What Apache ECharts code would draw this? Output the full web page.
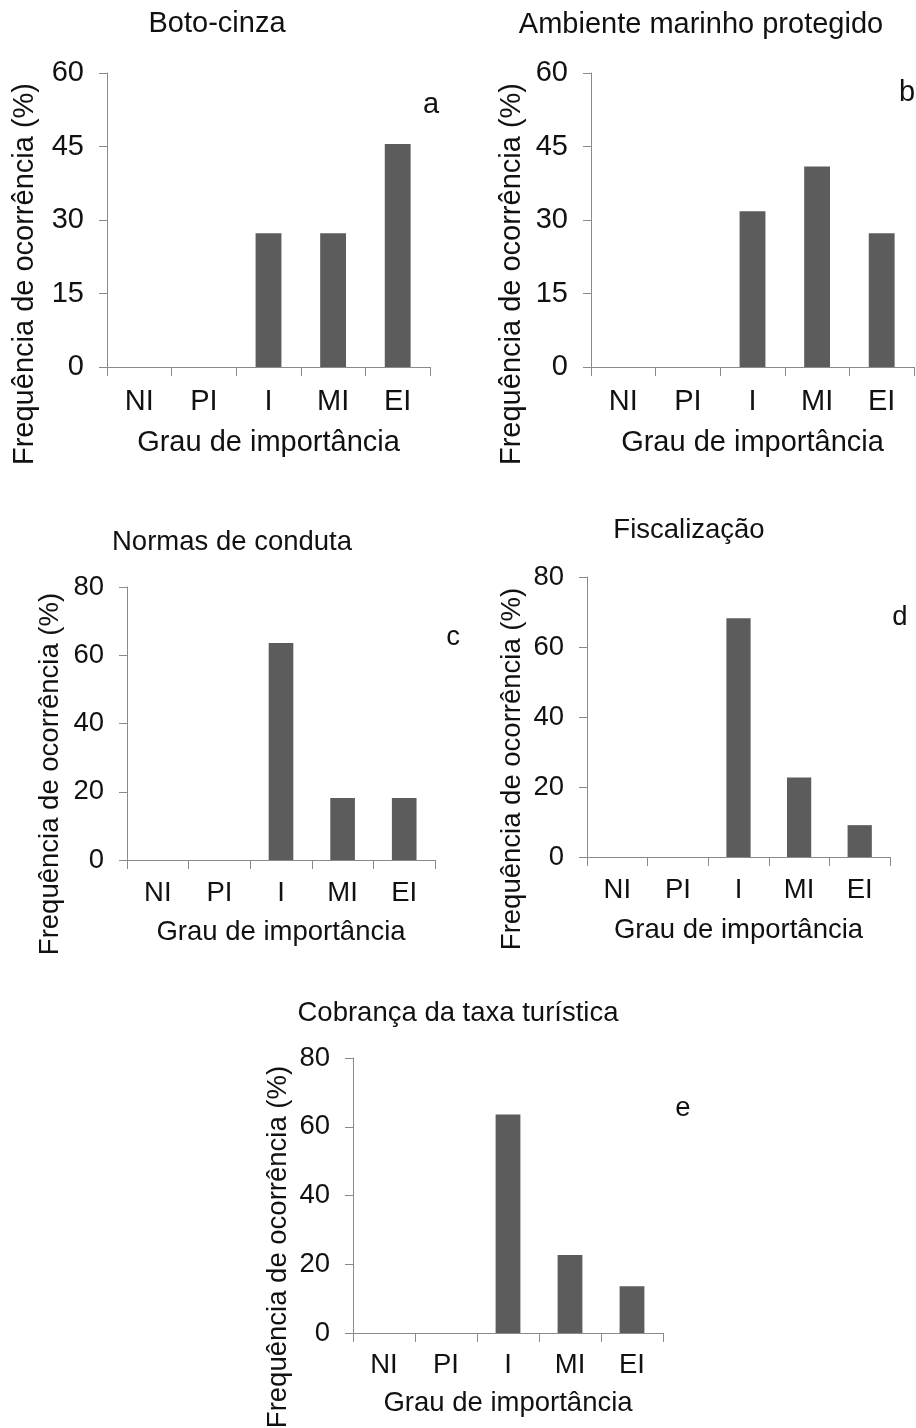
<!DOCTYPE html>
<html>
<head>
<meta charset="utf-8">
<script src="https://cdn.jsdelivr.net/npm/echarts@6/dist/echarts.min.js"></script>
<style>
html,body{margin:0;padding:0;background:#fff;}
#main{width:916px;height:1428px;}
</style>
</head>
<body>
<div id="main"></div>
<script>
// ---- data ----
const categories = ['NI', 'PI', 'I', 'MI', 'EI'];
const botoCinza = [0, 0, 27.3, 27.3, 45.5];
const ambienteMarinho = [0, 0, 31.8, 40.9, 27.3];
const normasConduta = [0, 0, 63.6, 18.2, 18.2];
const fiscalizacao = [0, 0, 68.2, 22.7, 9.1];
const cobrancaTaxa = [0, 0, 63.6, 22.7, 13.6];
const panelTitles = ['Boto-cinza', 'Ambiente marinho protegido', 'Normas de conduta', 'Fiscalização', 'Cobrança da taxa turística'];
const panelLetters = ['a', 'b', 'c', 'd', 'e'];
const yMaxes = [60, 60, 80, 80, 80];
const yIntervals = [15, 15, 20, 20, 20];
const xAxisTitle = 'Grau de importância';
const yAxisTitle = 'Frequência de ocorrência (%)';

const seriesData = [botoCinza, ambienteMarinho, normasConduta, fiscalizacao, cobrancaTaxa];

// ---- layout ----
const FONT = "'Liberation Sans', Arial, sans-serif";
const panels = [
  {grid:{left:107, right:486, top:73, bottom:1061}, fs:29, labMargin:20, nameGap:61,
   title:[217,24], letter:[431,105], ylab:[25,274]},
  {grid:{left:591, right:2, top:73, bottom:1061}, fs:29, labMargin:20, nameGap:61,
   title:[701,25], letter:[907,93], ylab:[512,274]},
  {grid:{left:127, right:481, top:587, bottom:568}, fs:27.5, labMargin:19, nameGap:58,
   title:[232,542], letter:[453,637], ylab:[50,774]},
  {grid:{left:587, right:26, top:577, bottom:571}, fs:27.5, labMargin:19, nameGap:59,
   title:[689,530], letter:[900,617], ylab:[512,769]},
  {grid:{left:353, right:253, top:1058, bottom:95}, fs:27.5, labMargin:18, nameGap:56,
   title:[458,1013], letter:[683,1108], ylab:[278,1247]}
];

const AXIS_COLOR = '#8a8a8a';
const BAR_COLOR = '#5c5c5c';
const TEXT_COLOR = '#111';

const grid = [], xAxis = [], yAxis = [], series = [], graphic = [];
panels.forEach((p, i) => {
  grid.push(Object.assign({containLabel:false}, p.grid));
  xAxis.push({
    type:'category', gridIndex:i, data:categories,
    boundaryGap:true,
    axisLine:{show:true, lineStyle:{color:AXIS_COLOR, width:1}},
    axisTick:{show:true, inside:false, length:9, alignWithLabel:false, lineStyle:{color:AXIS_COLOR}},
    axisLabel:{color:TEXT_COLOR, fontFamily:FONT, fontSize:p.fs, margin:p.labMargin, interval:0},
    splitLine:{show:false},
    name:xAxisTitle, nameLocation:'middle', nameGap:p.nameGap,
    nameTextStyle:{color:TEXT_COLOR, fontFamily:FONT, fontSize:p.fs}
  });
  yAxis.push({
    type:'value', gridIndex:i, min:0, max:yMaxes[i], interval:yIntervals[i],
    axisLine:{show:true, lineStyle:{color:AXIS_COLOR, width:1}},
    axisTick:{show:true, inside:false, length:8, lineStyle:{color:AXIS_COLOR}},
    axisLabel:{color:TEXT_COLOR, fontFamily:FONT, fontSize:p.fs, margin:23},
    splitLine:{show:false}
  });
  series.push({
    type:'bar', xAxisIndex:i, yAxisIndex:i, data:seriesData[i],
    barWidth:'40%', itemStyle:{color:BAR_COLOR}, silent:true, animation:false
  });
  graphic.push({
    type:'text', x:p.title[0], y:p.title[1],
    style:{text:panelTitles[i], fill:TEXT_COLOR, font:p.fs + 'px ' + FONT, align:'center', verticalAlign:'middle'}
  });
  graphic.push({
    type:'text', x:p.letter[0], y:p.letter[1],
    style:{text:panelLetters[i], fill:TEXT_COLOR, font:p.fs + 'px ' + FONT, align:'center', verticalAlign:'middle'}
  });
  graphic.push({
    type:'text', x:p.ylab[0], y:p.ylab[1], rotation:Math.PI/2,
    style:{text:yAxisTitle, fill:TEXT_COLOR, font:p.fs + 'px ' + FONT, align:'center', verticalAlign:'middle'}
  });
});

const chart = echarts.init(document.getElementById('main'), null, {renderer:'canvas'});
chart.setOption({
  backgroundColor:'#ffffff',
  animation:false,
  grid, xAxis, yAxis, series, graphic
});
</script>
</body>
</html>
